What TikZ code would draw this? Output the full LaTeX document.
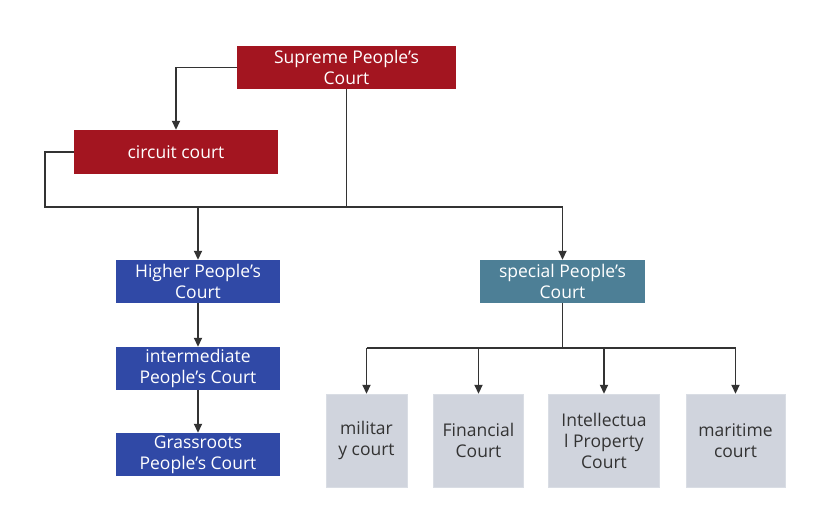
\documentclass[tikz,border=0pt]{standalone}
\usepackage{fontspec}
\setmainfont{Open Sans}
\usetikzlibrary{arrows.meta}
\definecolor{cred}{HTML}{A31520}
\definecolor{cblue}{HTML}{3049A6}
\definecolor{cteal}{HTML}{4D7F96}
\definecolor{cgrey}{HTML}{D0D4DD}
\definecolor{cline}{HTML}{333333}
\definecolor{ctext}{HTML}{333333}
\tikzset{
  box/.style={inner sep=0pt, align=center, font=\fontsize{17.5}{21}\selectfont, text=white, minimum height=43pt},
  redbox/.style={box, fill=cred},
  bluebox/.style={box, fill=cblue, minimum width=164pt},
  tealbox/.style={box, fill=cteal, minimum width=165pt},
  greybox/.style={box, fill=cgrey, draw=cgrey!80!white, text=ctext, minimum height=93pt},
  conn/.style={draw=cline, line width=1.8pt},
  arr/.style={conn, -{Triangle[length=9pt,width=8pt]}}
}
\begin{document}
\begin{tikzpicture}[x=1pt,y=-1pt]
\useasboundingbox (0,0) rectangle (816,518);
\node[redbox, minimum width=219pt] (sup) at (346.5,67.5) {Supreme People's\\Court};
\node[redbox, minimum width=204pt, minimum height=44pt] (cir) at (176,152) {circuit court};
\node[bluebox] (hig) at (198,281.5) {Higher People's\\Court};
\node[tealbox] (spe) at (562.5,281.5) {special People's\\Court};
\node[bluebox] (int) at (198,368.5) {intermediate\\People's Court};
\node[bluebox] (gra) at (198,454.5) {Grassroots\\People's Court};
\node[greybox, minimum width=81pt] (mil) at (366.5,440.5) {militar\\y court};
\node[greybox, minimum width=90pt] (fin) at (478.5,440.5) {Financial\\Court};
\node[greybox, minimum width=111pt] (ipc) at (604,440.5) {Intellectua\\l Property\\Court};
\node[greybox, minimum width=99pt] (mar) at (735.5,440.5) {maritime\\court};
\coordinate (busL) at (45,207);
\coordinate (busR) at (562.5,207);
\coordinate (bus2) at (366.5,348);
\draw[arr] (sup.west) -| (cir.north);
\draw[conn] (cir.west) -| (busL) -- (busR);
\draw[conn] (sup.south) -- (sup.south |- busL);
\draw[arr] (hig.north |- busL) -- (hig.north);
\draw[arr] (busR) -- (spe.north);
\draw[arr] (hig.south) -- (int.north);
\draw[arr] (int.south) -- (gra.north);
\draw[conn] (spe.south) -- (spe.south |- bus2);
\draw[conn] (bus2) -- (mar.north |- bus2);
\draw[arr] (bus2) -- (mil.north);
\draw[arr] (fin.north |- bus2) -- (fin.north);
\draw[arr] (ipc.north |- bus2) -- (ipc.north);
\draw[arr] (mar.north |- bus2) -- (mar.north);
\end{tikzpicture}
\end{document}
